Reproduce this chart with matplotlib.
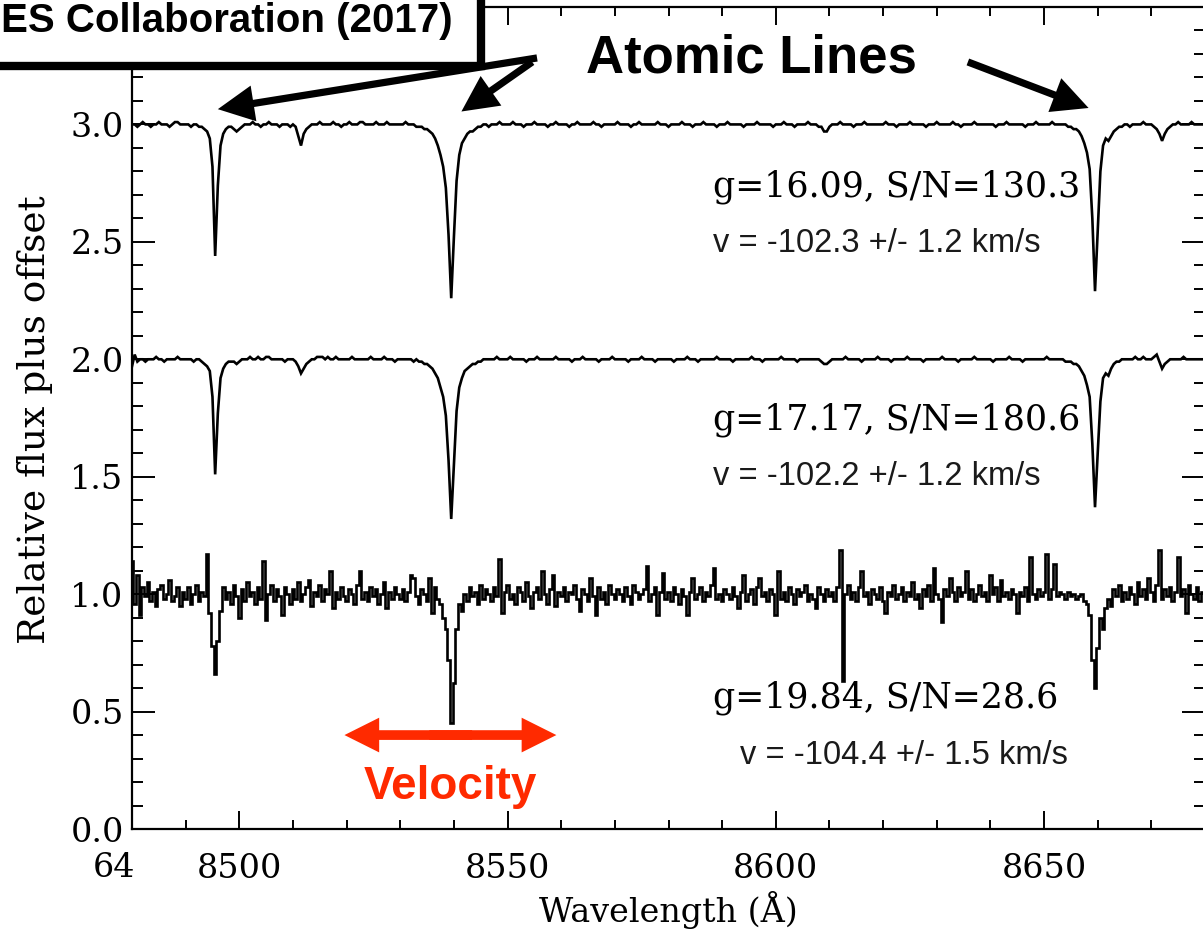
import numpy as np
import matplotlib
matplotlib.use("Agg")
import matplotlib.pyplot as plt
from matplotlib.patches import Rectangle
from matplotlib.ticker import MultipleLocator, FixedLocator, FormatStrFormatter

plt.rcParams['font.family'] = ['DejaVu Serif']

# rebinned spectra: 0.5 A per pixel starting at 8480 A
wave_start = 8480.0
wave_step = 0.5

# normalised flux in per cent of the continuum, 20 pixels (10 A) per row
flux_g1609 = [
    100, 100, 99, 100, 101, 100, 100, 99, 100, 100, 101, 100, 100, 100, 99, 100, 101, 101, 100, 100,
    100, 100, 99, 100, 100, 99, 99, 98, 97, 94, 82, 44, 74, 91, 96, 98, 99, 99, 98, 97,
    98, 99, 100, 100, 100, 101, 100, 100, 99, 100, 100, 101, 100, 100, 100, 99, 100, 100, 100, 99,
    100, 99, 95, 91, 96, 98, 99, 100, 100, 100, 101, 100, 100, 100, 100, 101, 100, 100, 99, 100,
    100, 101, 100, 100, 100, 101, 101, 100, 100, 100, 100, 101, 100, 100, 100, 101, 100, 100, 100, 100,
    100, 100, 101, 100, 100, 100, 99, 99, 99, 98, 98, 97, 96, 94, 91, 87, 82, 73, 53, 26,
    52, 76, 87, 92, 94, 96, 97, 97, 98, 99, 99, 100, 100, 99, 100, 100, 100, 101, 100, 100,
    100, 100, 101, 100, 100, 100, 99, 100, 100, 100, 101, 100, 100, 100, 100, 99, 100, 100, 101, 100,
    100, 100, 100, 99, 100, 100, 101, 100, 100, 100, 100, 100, 101, 100, 100, 99, 100, 100, 100, 100,
    100, 101, 100, 100, 100, 100, 99, 100, 100, 101, 100, 100, 100, 100, 100, 100, 101, 100, 100, 100,
    99, 100, 100, 100, 100, 101, 100, 100, 100, 99, 100, 100, 100, 101, 100, 100, 100, 100, 99, 100,
    100, 100, 101, 100, 100, 100, 100, 100, 99, 100, 100, 100, 100, 101, 100, 100, 100, 100, 100, 99,
    100, 100, 100, 101, 100, 100, 100, 99, 100, 100, 100, 100, 101, 100, 100, 100, 99, 99, 97, 97,
    99, 100, 100, 100, 101, 100, 100, 100, 100, 99, 100, 100, 100, 101, 100, 100, 100, 100, 100, 100,
    100, 101, 100, 100, 100, 99, 100, 100, 100, 100, 101, 100, 100, 100, 100, 100, 99, 100, 100, 100,
    101, 100, 100, 100, 100, 100, 101, 100, 100, 99, 100, 100, 100, 100, 101, 100, 100, 100, 100, 100,
    100, 100, 99, 100, 100, 100, 101, 100, 100, 100, 100, 100, 100, 99, 100, 100, 100, 101, 100, 100,
    100, 100, 100, 101, 100, 100, 100, 100, 100, 99, 99, 98, 98, 97, 95, 92, 88, 81, 60, 29,
    55, 80, 91, 94, 93, 95, 97, 98, 99, 99, 100, 100, 99, 100, 100, 100, 100, 101, 100, 100,
    100, 99, 98, 96, 93, 96, 98, 99, 100, 100, 101, 100, 100, 100, 100, 101, 100, 100, 100, 100,
    100,
]

flux_g1717 = [
    97, 102, 99, 100, 100, 99, 100, 100, 100, 101, 100, 100, 99, 100, 100, 100, 100, 101, 100, 100,
    100, 100, 100, 99, 100, 100, 99, 98, 97, 95, 84, 51, 77, 92, 96, 98, 99, 99, 99, 98,
    99, 100, 100, 100, 101, 100, 100, 101, 100, 100, 101, 101, 100, 100, 100, 100, 100, 99, 100, 100,
    100, 99, 97, 94, 96, 98, 99, 100, 100, 101, 101, 101, 100, 101, 100, 100, 101, 100, 100, 100,
    100, 100, 101, 100, 100, 100, 100, 100, 100, 101, 100, 100, 100, 100, 101, 100, 100, 100, 99, 100,
    100, 100, 100, 100, 100, 99, 100, 99, 99, 98, 98, 97, 96, 94, 92, 88, 84, 76, 57, 32,
    55, 78, 88, 92, 95, 96, 97, 98, 98, 99, 99, 100, 100, 100, 100, 100, 101, 100, 100, 100,
    100, 101, 100, 100, 100, 100, 100, 99, 100, 100, 100, 101, 100, 100, 100, 100, 100, 100, 101, 100,
    100, 100, 100, 100, 99, 100, 100, 100, 101, 100, 100, 100, 100, 100, 99, 100, 100, 100, 100, 101,
    100, 100, 100, 100, 100, 99, 100, 100, 100, 100, 101, 100, 100, 100, 100, 99, 100, 100, 100, 100,
    100, 100, 99, 100, 100, 100, 100, 101, 100, 100, 100, 99, 100, 100, 100, 100, 100, 100, 101, 100,
    100, 100, 100, 100, 99, 100, 100, 100, 100, 100, 100, 101, 100, 100, 100, 99, 100, 100, 100, 100,
    100, 100, 101, 100, 100, 100, 100, 100, 99, 100, 100, 100, 100, 100, 100, 100, 100, 99, 98, 98,
    99, 100, 100, 100, 100, 100, 101, 100, 100, 100, 100, 100, 99, 100, 100, 100, 100, 100, 101, 100,
    100, 100, 100, 99, 100, 100, 100, 100, 100, 101, 100, 100, 100, 100, 100, 99, 100, 100, 100, 100,
    100, 100, 101, 100, 100, 100, 100, 100, 99, 100, 100, 100, 100, 100, 101, 100, 100, 100, 100, 100,
    100, 99, 100, 100, 100, 100, 100, 101, 100, 100, 100, 100, 99, 100, 100, 100, 100, 100, 100, 100,
    100, 101, 100, 100, 100, 100, 100, 100, 99, 99, 99, 98, 98, 97, 95, 93, 89, 84, 64, 37,
    60, 82, 92, 94, 93, 96, 98, 99, 99, 100, 100, 100, 100, 100, 101, 100, 100, 101, 100, 100,
    100, 101, 102, 99, 96, 98, 99, 100, 100, 100, 100, 100, 101, 100, 100, 100, 100, 100, 100, 100,
    100,
]

flux_g1984 = [
    114, 96, 108, 91, 103, 99, 105, 97, 101, 95, 102, 104, 98, 100, 106, 97, 99, 103, 95, 101,
    98, 103, 96, 100, 104, 97, 101, 99, 117, 92, 78, 66, 80, 93, 103, 98, 101, 96, 104, 99,
    90, 102, 97, 105, 99, 101, 96, 103, 98, 114, 89, 100, 104, 97, 102, 99, 91, 103, 100, 96,
    102, 98, 105, 97, 100, 103, 106, 95, 101, 99, 104, 97, 102, 100, 110, 94, 101, 98, 103, 99,
    97, 102, 100, 96, 104, 110, 98, 101, 97, 103, 99, 102, 96, 100, 105, 94, 101, 98, 103, 100,
    98, 102, 97, 101, 108, 107, 99, 96, 102, 100, 97, 107, 92, 103, 98, 96, 90, 85, 72, 45,
    62, 85, 96, 93, 100, 97, 103, 99, 101, 96, 104, 98, 102, 100, 97, 103, 99, 115, 92, 101,
    104, 98, 100, 96, 103, 101, 97, 105, 99, 94, 101, 103, 98, 110, 100, 96, 102, 108, 95, 101,
    99, 103, 97, 101, 100, 104, 98, 93, 102, 100, 97, 107, 99, 91, 103, 98, 101, 96, 104, 100,
    98, 102, 100, 97, 103, 99, 96, 104, 101, 98, 100, 102, 112, 97, 100, 103, 91, 101, 109, 98,
    101, 97, 103, 100, 96, 102, 99, 91, 101, 107, 98, 100, 103, 97, 101, 99, 104, 111, 98, 100,
    97, 102, 100, 98, 103, 99, 94, 101, 108, 97, 100, 102, 96, 103, 107, 99, 101, 97, 102, 100,
    91, 110, 98, 101, 97, 103, 100, 96, 102, 99, 101, 104, 97, 100, 98, 94, 103, 100, 97, 102,
    99, 101, 97, 103, 119, 63, 100, 104, 98, 101, 97, 103, 110, 99, 101, 96, 102, 100, 98, 103,
    97, 92, 101, 99, 104, 98, 100, 103, 97, 101, 99, 105, 98, 100, 94, 102, 99, 104, 97, 111,
    100, 98, 88, 102, 99, 107, 101, 97, 103, 99, 101, 110, 98, 102, 97, 100, 104, 99, 101, 97,
    108, 100, 103, 97, 106, 99, 101, 98, 102, 100, 92, 101, 99, 103, 97, 116, 100, 98, 102, 99,
    101, 117, 98, 102, 113, 99, 101, 100, 98, 101, 99, 100, 98, 99, 100, 97, 96, 91, 72, 60,
    77, 90, 85, 94, 98, 95, 102, 99, 104, 97, 101, 98, 103, 100, 96, 105, 99, 102, 98, 107,
    101, 97, 104, 119, 98, 102, 99, 103, 97, 101, 116, 99, 102, 92, 104, 100, 98, 103, 97, 101,
    100,
]

offsets = [3.0, 2.0, 1.0]
g_mag = [16.09, 17.17, 19.84]
sn_ratio = [130.3, 180.6, 28.6]
velocity = [-102.3, -102.2, -104.4]
velocity_err = [1.2, 1.2, 1.5]

fig = plt.figure(figsize=(12.03, 9.31), dpi=100)
ax = fig.add_axes([132 / 1203, 102 / 931, 1073 / 1203, 822 / 931])

# bright stars drawn as smooth curves, the faint noisy one as a histogram
draw_styles = ['default', 'default', 'steps-mid']
for flux, off, ds in zip([flux_g1609, flux_g1717, flux_g1984], offsets, draw_styles):
    f = np.array(flux) / 100.0
    wave = wave_start + wave_step * np.arange(len(f))
    ax.plot(wave, f - 1.0 + off, color='k', lw=1.9, drawstyle=ds, solid_joinstyle='miter')

ax.set_xlim(8480, 8680)
ax.set_ylim(0.0, 3.5)
ax.xaxis.set_major_locator(MultipleLocator(50))
ax.xaxis.set_minor_locator(MultipleLocator(10))
ax.yaxis.set_major_locator(FixedLocator([0.0, 0.5, 1.0, 1.5, 2.0, 2.5, 3.0]))
ax.yaxis.set_minor_locator(MultipleLocator(0.1))
ax.yaxis.set_major_formatter(FormatStrFormatter('%.1f'))
ax.tick_params(axis='x', which='major', direction='in', length=13, width=1.4,
               top=True, pad=17, labelsize=24)
ax.tick_params(axis='x', which='minor', direction='in', length=6.5, width=1.4, top=True)
ax.tick_params(axis='y', which='major', direction='in', length=16.5, width=1.4,
               right=True, pad=6, labelsize=24)
ax.tick_params(axis='y', which='minor', direction='in', length=8, width=1.4, right=True)
for sp in ax.spines.values():
    sp.set_linewidth(1.6)

fig.text(114 / 1203, 1 - 868 / 931, '64', ha='center', va='center', fontsize=24)
fig.text(668 / 1203, 1 - 910 / 931, 'Wavelength (Å)', ha='center', va='center', fontsize=24)
fig.text(35 / 1203, 1 - 420 / 931, 'Relative flux plus offset', ha='center', va='center',
         rotation=90, fontsize=27)

# star info next to each spectrum
g_text_x = [8588.3, 8588.3, 8588.3]
g_text_y = [2.734, 1.742, 0.558]
v_text_x = [8588.3, 8588.3, 8593.3]
v_text_y = [2.495, 1.503, 0.311]
for i in range(3):
    ax.text(g_text_x[i], g_text_y[i], f'g={g_mag[i]:.2f}, S/N={sn_ratio[i]:.1f}',
            ha='left', va='center', fontsize=25)
    ax.text(v_text_x[i], v_text_y[i],
            f'v = {velocity[i]:.1f} +/- {velocity_err[i]:.1f} km/s',
            ha='left', va='center', fontsize=23.5, family='Liberation Sans', color='#1a1a1a')

# arrows to the Ca II triplet
arrow_style = 'simple,head_length=1.0,head_width=1.0,tail_width=0.2'
arrow_tips = [(8496.0, 3.065), (8541.4, 3.055), (8658.3, 3.07)]
arrow_tails = [(8555.5, 3.283), (8554.6, 3.266), (8635.8, 3.266)]
for tip, tail in zip(arrow_tips, arrow_tails):
    ax.annotate('', xy=tip, xytext=tail,
                arrowprops=dict(arrowstyle=arrow_style, mutation_scale=26, color='k',
                                lw=0, shrinkA=0, shrinkB=0))
ax.text(8595.4, 3.279, 'Atomic Lines', ha='center', va='center', fontsize=38,
        family='Liberation Sans', weight='bold')

# velocity shift arrow around the strongest line; the two halves overlap in the middle
red = '#ff2a00'
vel_center = 8539.4
vel_ends = [8519.6, 8559.1]
for end in vel_ends:
    start = vel_center + (4.0 if end < vel_center else -4.0)
    ax.annotate('', xy=(end, 0.40), xytext=(start, 0.40),
                arrowprops=dict(arrowstyle='simple,head_length=1.0,head_width=1.0,tail_width=0.28',
                                mutation_scale=25, color=red, lw=0, shrinkA=0, shrinkB=0))
ax.text(vel_center, 0.179, 'Velocity', ha='center', va='center', fontsize=33,
        family='Liberation Sans', weight='bold', color=red)

# credit box in the corner
box = Rectangle((-30 / 1203, 1 - 66 / 931), 511 / 1203, 120 / 931,
                transform=fig.transFigure, facecolor='white', edgecolor='k', lw=6, zorder=5)
fig.add_artist(box)
fig.text(1 / 1203, 1 - 21 / 931, 'ES Collaboration (2017)', ha='left', va='center',
         fontsize=29, family='Liberation Sans', weight='bold', zorder=6)

fig.savefig('out.png', dpi=100)
